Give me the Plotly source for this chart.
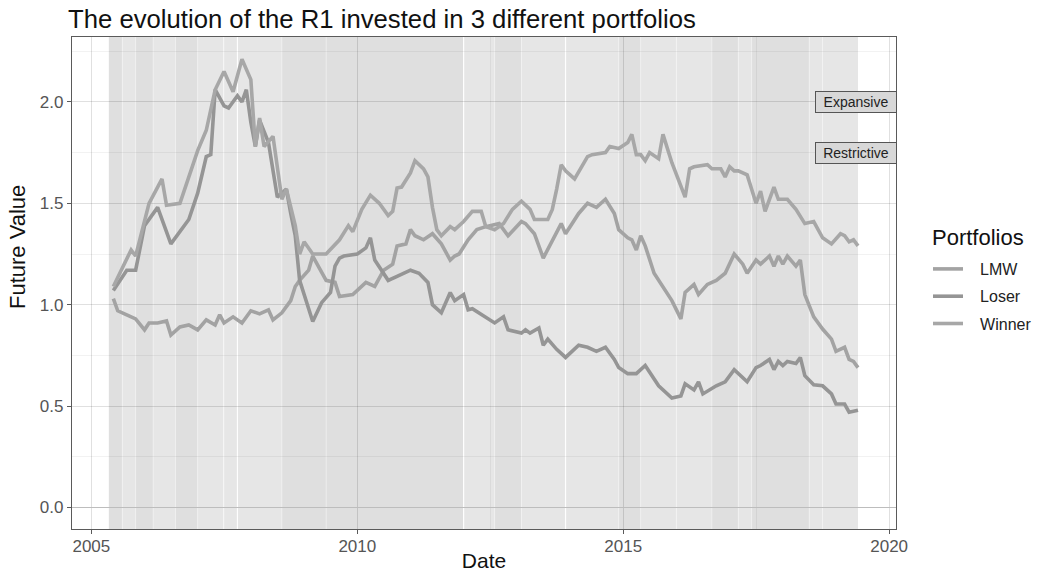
import plotly.graph_objects as go

# ---------------- data ----------------
winner_dates = ['2005-06','2005-10','2005-11','2006-02','2006-05','2006-06','2006-09','2007-01','2007-03','2007-05',
                '2007-07','2007-09','2007-11','2008-01','2008-02','2008-03','2008-04','2008-06','2008-08','2008-09',
                '2008-11','2008-12','2009-01','2009-03','2009-06','2009-09','2009-11','2009-12','2010-02','2010-04',
                '2010-06','2010-08','2010-09','2010-10','2010-11','2011-01','2011-02','2011-04','2011-05','2011-06',
                '2011-07','2011-08','2011-10','2011-11','2012-01','2012-03','2012-05','2012-06','2012-08','2012-10',
                '2012-12','2013-02','2013-04','2013-05','2013-08','2013-09','2013-10','2013-11','2013-12','2014-02',
                '2014-05','2014-06','2014-09','2014-10','2014-12','2015-02','2015-03','2015-04','2015-05','2015-06',
                '2015-07','2015-09','2015-10','2015-12','2016-03','2016-04','2016-05','2016-08','2016-09','2016-11',
                '2016-12','2017-01','2017-02','2017-03','2017-05','2017-07','2017-08','2017-09','2017-11','2017-12',
                '2018-02','2018-04','2018-06','2018-08','2018-10','2018-12','2019-02','2019-03','2019-04','2019-05',
                '2019-06']
winner_values = [1.09,1.27,1.24,1.50,1.62,1.49,1.50,1.76,1.86,2.06,
                 2.15,2.05,2.21,2.11,1.78,1.92,1.78,1.83,1.52,1.57,
                 1.39,1.25,1.31,1.25,1.25,1.32,1.39,1.36,1.47,1.54,
                 1.50,1.44,1.46,1.575,1.58,1.65,1.71,1.67,1.63,1.48,
                 1.37,1.34,1.385,1.37,1.41,1.46,1.46,1.385,1.37,1.40,
                 1.47,1.51,1.47,1.42,1.42,1.47,1.57,1.69,1.66,1.62,
                 1.73,1.74,1.75,1.78,1.77,1.80,1.84,1.74,1.74,1.71,
                 1.75,1.72,1.84,1.70,1.53,1.67,1.68,1.69,1.67,1.67,
                 1.63,1.68,1.66,1.66,1.64,1.50,1.56,1.46,1.58,1.52,
                 1.52,1.47,1.40,1.41,1.33,1.30,1.35,1.34,1.31,1.32,
                 1.29]

loser_dates = ['2005-06','2005-09','2005-11','2006-01','2006-04','2006-07','2006-11','2007-01','2007-03','2007-04',
               '2007-05','2007-07','2007-08','2007-10','2007-11','2007-12','2008-01','2008-02','2008-03','2008-05',
               '2008-07','2008-09','2008-10','2008-11','2008-12','2009-03','2009-05','2009-07','2009-08','2009-09',
               '2009-10','2010-01','2010-03','2010-04','2010-05','2010-08','2010-10','2011-01','2011-03','2011-05',
               '2011-06','2011-08','2011-10','2011-11','2012-01','2012-02','2012-03','2012-06','2012-08','2012-10',
               '2012-11','2013-02','2013-03','2013-04','2013-06','2013-07','2013-08','2013-10','2013-12','2014-03',
               '2014-05','2014-07','2014-09','2014-11','2014-12','2015-02','2015-04','2015-06','2015-08','2015-09',
               '2015-12','2016-02','2016-03','2016-05','2016-06','2016-07','2016-10','2016-12','2017-02','2017-04',
               '2017-05','2017-07','2017-08','2017-10','2017-11','2017-12','2018-01','2018-02','2018-04','2018-05',
               '2018-06','2018-08','2018-10','2018-12','2019-01','2019-03','2019-04','2019-06']
loser_values = [1.07,1.17,1.17,1.39,1.48,1.30,1.42,1.55,1.73,1.74,
                2.06,1.98,1.97,2.03,2.00,2.06,1.90,1.78,1.91,1.80,
                1.53,1.57,1.45,1.34,1.12,0.917,1.01,1.06,1.19,1.23,
                1.24,1.25,1.28,1.33,1.22,1.12,1.14,1.17,1.155,1.11,
                1.00,0.96,1.06,1.02,1.05,0.975,0.98,0.94,0.91,0.94,
                0.876,0.86,0.876,0.86,0.885,0.80,0.83,0.78,0.74,0.80,
                0.79,0.77,0.79,0.73,0.69,0.66,0.66,0.70,0.63,0.60,
                0.54,0.55,0.61,0.58,0.62,0.56,0.60,0.62,0.68,0.64,
                0.62,0.69,0.70,0.73,0.68,0.72,0.70,0.72,0.71,0.74,
                0.65,0.605,0.60,0.56,0.51,0.51,0.47,0.48]

lmw_dates = ['2005-06','2005-07','2005-09','2005-11','2006-01','2006-02','2006-04','2006-06','2006-07','2006-09',
             '2006-11','2007-01','2007-03','2007-05','2007-06','2007-07','2007-09','2007-11','2008-01','2008-03',
             '2008-05','2008-06','2008-08','2008-10','2008-11','2008-12','2009-02','2009-03','2009-06','2009-08',
             '2009-09','2009-12','2010-03','2010-05','2010-07','2010-09','2010-10','2010-12','2011-01','2011-02',
             '2011-04','2011-06','2011-08','2011-10','2011-11','2011-12','2012-02','2012-04','2012-06','2012-09',
             '2012-11','2013-02','2013-03','2013-05','2013-07','2013-09','2013-11','2013-12','2014-03','2014-05',
             '2014-07','2014-09','2014-11','2014-12','2015-02','2015-03','2015-04','2015-05','2015-06','2015-08',
             '2015-10','2015-12','2016-02','2016-03','2016-05','2016-06','2016-08','2016-10','2016-12','2017-02',
             '2017-04','2017-05','2017-07','2017-08','2017-10','2017-11','2017-12','2018-01','2018-02','2018-04',
             '2018-05','2018-06','2018-08','2018-10','2018-12','2019-01','2019-03','2019-04','2019-05','2019-06']
lmw_values = [1.03,0.97,0.95,0.93,0.876,0.91,0.91,0.92,0.85,0.89,
              0.90,0.876,0.925,0.90,0.95,0.91,0.94,0.91,0.97,0.955,
              0.975,0.925,0.96,1.02,1.09,1.12,1.17,1.24,1.12,1.11,
              1.04,1.05,1.11,1.09,1.17,1.20,1.29,1.30,1.37,1.34,
              1.32,1.35,1.30,1.22,1.24,1.25,1.32,1.37,1.385,1.40,
              1.34,1.41,1.40,1.35,1.23,1.32,1.40,1.35,1.45,1.50,
              1.48,1.52,1.45,1.37,1.33,1.32,1.27,1.34,1.29,1.155,
              1.09,1.02,0.93,1.06,1.10,1.05,1.10,1.12,1.155,1.25,
              1.20,1.155,1.22,1.20,1.24,1.19,1.24,1.20,1.24,1.19,
              1.22,1.05,0.94,0.88,0.83,0.77,0.79,0.73,0.72,0.69]

portfolio_names = ['LMW', 'Loser', 'Winner']
portfolio_colors = ['#a3a3a3', '#959595', '#a7a7a7']

# policy regime shading
regime_start = ['2005-05','2005-08','2005-11','2006-03','2006-08','2007-01','2007-07','2007-10','2008-08','2009-06',
                '2012-01','2012-08','2013-02','2013-12','2014-12','2015-05','2016-01','2016-09','2017-03','2017-06',
                '2018-07','2018-10']
regime_end = ['2005-08','2005-11','2006-03','2006-08','2007-01','2007-07','2007-10','2008-08','2009-06','2012-01',
              '2012-08','2013-02','2013-12','2014-12','2015-05','2016-01','2016-09','2017-03','2017-06','2018-07',
              '2018-10','2019-06']
regime_type = ['Restrictive','Expansive','Restrictive','Expansive','Restrictive','Expansive','Expansive','Expansive',
               'Restrictive','Restrictive','Expansive','Restrictive','Expansive','Expansive','Restrictive','Expansive',
               'Expansive','Restrictive','Expansive','Restrictive','Expansive','Expansive']
regime_fill = {'Restrictive': '#dfdfdf', 'Expansive': '#e6e6e6'}
regime_gaps = ['2007-07','2007-10','2012-01','2013-12']

label_text = ['Expansive', 'Restrictive']
label_y = [2.0, 1.75]
label_x = '2019-05-15'

x_tick_years = ['2005', '2010', '2015', '2020']
y_ticks = [0.0, 0.5, 1.0, 1.5, 2.0]

# ---------------- figure ----------------
fig = go.Figure()

legend_pad = '\u00a0\u00a0\u2009'
series = [(lmw_dates, lmw_values), (loser_dates, loser_values), (winner_dates, winner_values)]
for (d, v), name, col in zip(series, portfolio_names, portfolio_colors):
    fig.add_trace(go.Scatter(x=d, y=v, mode='lines', name=legend_pad + name, legendgroup=name,
                             line=dict(color=col, width=3.6), hoverinfo='skip'))

for s, e, t in zip(regime_start, regime_end, regime_type):
    fig.add_shape(type='rect', xref='x', yref='paper', x0=s, x1=e, y0=0, y1=1,
                  fillcolor=regime_fill[t], line_width=0, layer='below')
for s in regime_start[1:]:
    fig.add_shape(type='line', xref='x', yref='paper', x0=s, x1=s, y0=0, y1=1,
                  line=dict(color='rgba(255,255,255,0.35)', width=1), layer='below')
for g in regime_gaps:
    fig.add_shape(type='line', xref='x', yref='paper', x0=g, x1=g, y0=0, y1=1,
                  line=dict(color='rgba(255,255,255,0.9)', width=1.2), layer='below')

for txt, yv in zip(label_text, label_y):
    fig.add_annotation(x=label_x, y=yv, xref='x', yref='y', text=txt, showarrow=False,
                       font=dict(size=14, color='#222222'), bgcolor='#d8d8d8',
                       bordercolor='#555555', borderwidth=1, borderpad=1, width=78, height=18)

# y-axis title and legend title as positioned text
fig.add_annotation(text='Future Value', xref='paper', yref='paper', x=(17 - 72) / 824, y=(529 - 247) / 492,
                   xanchor='center', yanchor='middle', textangle=-90, showarrow=False,
                   font=dict(size=22, color='#111111'))
fig.add_annotation(text='Portfolios', xref='paper', yref='paper', x=(930 - 72) / 824, y=(529 - 237) / 492,
                   xanchor='left', yanchor='middle', showarrow=False,
                   font=dict(size=22, color='#111111'))

axis_common = dict(showline=True, mirror=True, linecolor='#5a5a5a', linewidth=1.2,
                   ticks='outside', ticklen=4, tickcolor='#5a5a5a', tickwidth=1,
                   tickfont=dict(size=17, color='#555555'), automargin=False,
                   showgrid=True, gridcolor='rgba(0,0,0,0.075)', gridwidth=1)

fig.update_layout(
    width=1038, height=572,
    margin=dict(l=72, r=142, t=37, b=43),
    paper_bgcolor='white', plot_bgcolor='white',
    font=dict(family='Liberation Sans, Arial, sans-serif', color='#1a1a1a'),
    title=dict(text='The evolution of the R1 invested in 3 different portfolios',
               xref='container', x=68 / 1038, xanchor='left',
               yref='container', y=1 - 19 / 572, yanchor='middle',
               font=dict(size=25.7, color='#111111')),
    xaxis=dict(type='date', range=['2004-08-21', '2020-02-17'],
               tickvals=[y + '-01-01' for y in x_tick_years], ticktext=x_tick_years,
               ticklabelstandoff=-3,
               minor=dict(dtick='M30', tick0='2005-01-01', showgrid=True,
                          gridcolor='rgba(0,0,0,0.05)', gridwidth=0.6),
               zeroline=False,
               title=dict(text='Date', font=dict(size=21, color='#111111'), standoff=4),
               **axis_common),
    yaxis=dict(range=[-0.106, 2.32], tickvals=y_ticks, tickformat='.1f',
               minor=dict(dtick=0.25, tick0=0, showgrid=True,
                          gridcolor='rgba(0,0,0,0.05)', gridwidth=0.6),
               zeroline=True, zerolinecolor='#bdbdbd', zerolinewidth=1.2,
               **axis_common),
    legend=dict(xref='container', yref='container', x=928 / 1038, xanchor='left',
                y=1 - 252 / 572, yanchor='top',
                font=dict(size=16, color='#222222'), bgcolor='rgba(0,0,0,0)',
                itemwidth=30, tracegroupgap=3.5),
    showlegend=True,
)

fig.write_html('out.html', config={'displayModeBar': False},
               post_script="document.body.style.margin='0';")
